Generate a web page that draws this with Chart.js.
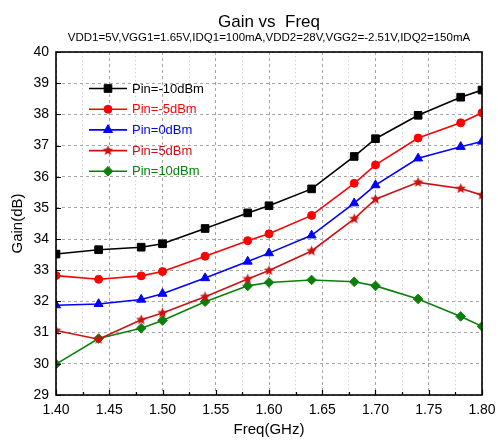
<!DOCTYPE html>
<html>
<head>
<meta charset="utf-8">
<script src="https://cdn.jsdelivr.net/npm/chart.js@4.4.0/dist/chart.umd.min.js"></script>
<style>
  html, body { margin: 0; padding: 0; background: #fff; }
  #wrap { width: 498px; height: 441px; }
</style>
</head>
<body>
<div id="wrap"><canvas id="c" width="498" height="441"></canvas></div>
<script>
// Measured gain (dB) versus frequency (GHz) at five input power levels
const freqGHz    = [1.40, 1.44, 1.48, 1.50, 1.54, 1.58, 1.60, 1.64, 1.68, 1.70, 1.74, 1.78, 1.80];
const gainPinM10 = [33.52, 33.66, 33.74, 33.85, 34.34, 34.84, 35.07, 35.61, 36.65, 37.22, 37.97, 38.55, 38.78];
const gainPinM5  = [32.83, 32.71, 32.82, 32.96, 33.45, 33.95, 34.17, 34.76, 35.79, 36.38, 37.24, 37.73, 38.05];
const gainPin0   = [31.88, 31.92, 32.06, 32.25, 32.75, 33.28, 33.55, 34.12, 35.15, 35.73, 36.59, 36.96, 37.13];
const gainPin5   = [31.07, 30.79, 31.41, 31.63, 32.15, 32.72, 32.99, 33.62, 34.65, 35.28, 35.82, 35.62, 35.41];
const gainPin10  = [29.99, 30.81, 31.14, 31.39, 31.99, 32.50, 32.61, 32.69, 32.63, 32.50, 32.08, 31.52, 31.20];
const seriesLabels = ['Pin=-10dBm', 'Pin=-5dBm', 'Pin=0dBm', 'Pin=5dBm', 'Pin=10dBm'];
const seriesGains  = [gainPinM10, gainPinM5, gainPin0, gainPin5, gainPin10];

const xMin = 1.40, xMax = 1.80, xStep = 0.025;
const yMin = 29, yMax = 40, yStep = 1;

const FONT = "'Liberation Sans', Arial, Helvetica, sans-serif";

// filled five-point star marker
function makeStar(color, rOuter) {
  const size = Math.ceil(rOuter * 2 + 2);
  const cv = document.createElement('canvas');
  cv.width = size; cv.height = size;
  const g = cv.getContext('2d');
  const cx = size / 2, cy = size / 2, rInner = rOuter * 0.45;
  g.beginPath();
  for (let i = 0; i < 10; i++) {
    const r = i % 2 === 0 ? rOuter : rInner;
    const a = -Math.PI / 2 + i * Math.PI / 5;
    const px = cx + r * Math.cos(a), py = cy + r * Math.sin(a);
    if (i === 0) g.moveTo(px, py); else g.lineTo(px, py);
  }
  g.closePath();
  g.fillStyle = color;
  g.fill();
  return cv;
}

const styles = [
  { color: '#000000', point: 'rect',     radius: 5.4 },
  { color: '#ff0000', point: 'circle',   radius: 4.0 },
  { color: '#0000ff', point: 'triangle', radius: 5.2 },
  { color: '#cc1111', point: makeStar('#cc1111', 5.5), radius: 5 },
  { color: '#0a800a', point: 'rectRot',  radius: 4.8 }
];

const datasets = seriesLabels.map((label, i) => ({
  label,
  data: freqGHz.map((f, k) => ({ x: f, y: seriesGains[i][k] })),
  borderColor: styles[i].color,
  backgroundColor: styles[i].color,
  pointBackgroundColor: styles[i].color,
  pointBorderColor: styles[i].color,
  borderWidth: 1.6,
  pointStyle: styles[i].point,
  pointRadius: styles[i].radius,
  pointBorderWidth: 1,
  tension: 0
}));

const isMajorX = v => Math.round(v * 1000) % 50 === 0;

// plot frame, inward tick marks and in-plot legend
const framePlugin = {
  id: 'frame',
  afterDatasetsDraw(chart) {
    const { ctx, chartArea: a, scales } = chart;
    ctx.save();
    ctx.strokeStyle = '#000';
    ctx.lineWidth = 1.6;
    ctx.strokeRect(a.left, a.top, a.right - a.left, a.bottom - a.top);
    ctx.lineWidth = 1.2;
    ctx.beginPath();
    scales.x.ticks.forEach(t => {
      const px = Math.round(scales.x.getPixelForValue(t.value)) + 0.5;
      const len = isMajorX(t.value) ? 5 : 3;
      ctx.moveTo(px, a.bottom);
      ctx.lineTo(px, a.bottom - len);
    });
    scales.y.ticks.forEach(t => {
      const py = Math.round(scales.y.getPixelForValue(t.value)) + 0.5;
      ctx.moveTo(a.left, py);
      ctx.lineTo(a.left + 5, py);
    });
    ctx.stroke();

    // legend
    const x0 = 89, x1 = 127, tx = 132, y0 = 88.5, dy = 20.7;
    ctx.font = '13px ' + FONT;
    ctx.textBaseline = 'middle';
    ctx.textAlign = 'left';
    chart.data.datasets.forEach((ds, i) => {
      const y = y0 + i * dy;
      ctx.strokeStyle = ds.borderColor;
      ctx.lineWidth = 1.6;
      ctx.beginPath();
      ctx.moveTo(x0, y);
      ctx.lineTo(x1, y);
      ctx.stroke();
      ctx.fillStyle = ds.backgroundColor;
      ctx.strokeStyle = ds.borderColor;
      ctx.lineWidth = 1;
      Chart.helpers.drawPoint(ctx, { pointStyle: ds.pointStyle, radius: ds.pointRadius, rotation: 0, borderWidth: 1 }, (x0 + x1) / 2, y);
      ctx.fillStyle = ds.borderColor;
      ctx.fillText(ds.label, tx, y + 0.5);
    });
    ctx.restore();
  }
};

new Chart(document.getElementById('c'), {
  type: 'line',
  data: { datasets },
  plugins: [framePlugin],
  options: {
    responsive: false,
    devicePixelRatio: 1,
    animation: false,
    layout: { padding: { left: 0, right: 16, top: 0, bottom: 0 } },
    plugins: {
      legend: { display: false },
      tooltip: { enabled: false },
      title: {
        display: true,
        text: 'Gain vs  Freq',
        fullSize: false,
        color: '#000',
        font: { family: FONT, size: 17, weight: 'normal', lineHeight: 1.0 },
        padding: { top: 13.5, bottom: 0 }
      },
      subtitle: {
        display: true,
        text: 'VDD1=5V,VGG1=1.65V,IDQ1=100mA,VDD2=28V,VGG2=-2.51V,IDQ2=150mA',
        fullSize: false,
        color: '#000',
        font: { family: FONT, size: 11.5, weight: 'normal', lineHeight: 1.2 },
        padding: { top: 0, bottom: 7.7 }
      }
    },
    scales: {
      x: {
        type: 'linear',
        min: xMin, max: xMax,
        afterFit(s) { s.height = 46; s.paddingLeft = 0; s.paddingRight = 0; },
        ticks: {
          stepSize: xStep,
          autoSkip: false,
          maxRotation: 0,
          color: '#000',
          padding: 7,
          font: { family: FONT, size: 14 },
          callback: v => isMajorX(v) ? v.toFixed(2) : ''
        },
        grid: {
          drawTicks: false,
          lineWidth: 1,
          color: c => isMajorX(c.tick.value) ? '#a6a6a6' : '#d4d4d4'
        },
        border: {
          display: false,
          dash: c => (c.tick && isMajorX(c.tick.value)) ? [3, 3] : [1.5, 2.5]
        },
        title: {
          display: true,
          text: 'Freq(GHz)',
          color: '#000',
          font: { family: FONT, size: 15, lineHeight: 1.2 },
          padding: { top: 0, bottom: 2 }
        }
      },
      y: {
        type: 'linear',
        min: yMin, max: yMax,
        afterFit(s) { s.width = 56; s.paddingTop = 0; s.paddingBottom = 0; },
        ticks: {
          stepSize: yStep,
          color: '#000',
          padding: 7,
          font: { family: FONT, size: 14 }
        },
        grid: {
          drawTicks: false,
          lineWidth: 1,
          color: '#a6a6a6'
        },
        border: { display: false, dash: [3, 3] },
        title: {
          display: true,
          text: 'Gain(dB)',
          color: '#000',
          font: { family: FONT, size: 15, lineHeight: 1.2 },
          padding: { top: 9, bottom: 0 }
        }
      }
    }
  }
});
</script>
</body>
</html>
